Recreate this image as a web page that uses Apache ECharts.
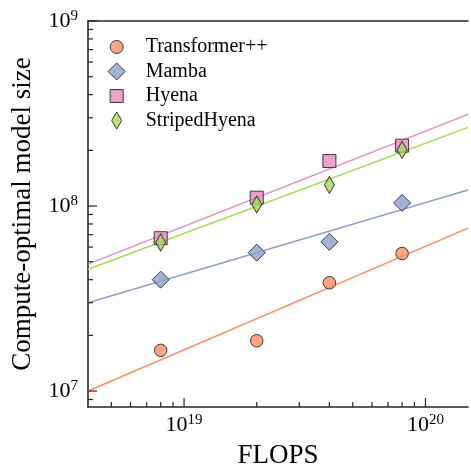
<!DOCTYPE html>
<html>
<head>
<meta charset="utf-8">
<title>Compute-optimal model size</title>
<script src="https://cdn.jsdelivr.net/npm/echarts@6/dist/echarts.min.js"></script>
<style>
    html, body { margin: 0; padding: 0; background: #fff; }
    #container { width: 471px; height: 474px; }
</style>
</head>
<body>
<div id="container"></div>
<script>
// measured points
var flops = [8e18, 2e19, 4e19, 8e19];
var transformerSize = [1.66e7, 1.87e7, 3.85e7, 5.54e7];
var mambaSize = [4.0e7, 5.6e7, 6.4e7, 1.04e8];
var hyenaSize = [6.7e7, 1.11e8, 1.75e8, 2.12e8];
var stripedSize = [6.35e7, 1.02e8, 1.30e8, 2.01e8];

// fitted lines: value at the left and right edge of the plot
var fitFlops = [4e18, 1.5e20];
var transformerFit = [1.0e7, 7.6e7];
var mambaFit = [3.0e7, 1.22e8];
var hyenaFit = [4.85e7, 3.13e8];
var stripedFit = [4.55e7, 2.66e8];

var names = ['Transformer++', 'Mamba', 'Hyena', 'StripedHyena'];

// log ticks
var xMajorTicks = [1e19, 1e20];
var xMinorTicks = [5e18, 6e18, 7e18, 8e18, 9e18, 2e19, 3e19, 4e19, 5e19, 6e19, 7e19, 8e19, 9e19];
var yMajorTicks = [1e7, 1e8, 1e9];
var yMinorTicks = [9e6, 2e7, 3e7, 4e7, 5e7, 6e7, 7e7, 8e7, 9e7,
    2e8, 3e8, 4e8, 5e8, 6e8, 7e8, 8e8, 9e8];

var xMin = 4e18, xMax = 1.5e20;
var yMin = 8.2e6, yMax = 1e9;

var font = '"Liberation Serif", "DejaVu Serif", serif';
var axisColor = '#262626';
var edgeColor = '#3a3a3a';

function zip(xs, ys) {
    var out = [];
    for (var i = 0; i < xs.length; i++) {
        out.push([xs[i], ys[i]]);
    }
    return out;
}

function powerLabel(v) {
    var e = Math.log10(v);
    if (Math.abs(e - Math.round(e)) > 1e-6) return '';
    return '{b|10}{s|' + Math.round(e) + '}';
}

var labelRich = {
    b: { fontFamily: font, fontSize: 22, lineHeight: 24, color: '#000' },
    s: { fontFamily: font, fontSize: 15, lineHeight: 12, verticalAlign: 'top', color: '#000' }
};

// ticks drawn inward, matplotlib style
function tickSeries(values, dir, len) {
    return {
        type: 'custom',
        silent: true,
        clip: false,
        z: 5,
        data: values.map(function (v) { return dir === 'x' ? [v, yMin] : [xMin, v]; }),
        renderItem: function (params, api) {
            var p = api.coord([api.value(0), api.value(1)]);
            var x2 = dir === 'x' ? p[0] : p[0] + len;
            var y2 = dir === 'x' ? p[1] - len : p[1];
            return {
                type: 'line',
                shape: { x1: p[0], y1: p[1], x2: x2, y2: y2 },
                style: { stroke: axisColor, lineWidth: 1.2 }
            };
        }
    };
}

function fitSeries(ys, color) {
    return {
        type: 'line',
        data: zip(fitFlops, ys),
        showSymbol: false,
        silent: true,
        z: 2,
        lineStyle: { color: color, width: 1.5 }
    };
}

function pointSeries(name, ys, symbol, size, fill) {
    return {
        name: name,
        type: 'scatter',
        data: zip(flops, ys),
        symbol: symbol,
        symbolSize: size,
        z: 3,
        itemStyle: { color: fill, borderColor: edgeColor, borderWidth: 1, opacity: 1 }
    };
}

var myChart = echarts.init(document.getElementById('container'));

var option = {
    animation: false,
    backgroundColor: '#fff',
    grid: { left: 88, top: 21, right: 0, bottom: 65 },
    legend: {
        orient: 'vertical',
        left: 102.7,
        top: 32,
        itemWidth: 48,
        itemHeight: 17,
        itemGap: 4.5,
        selectedMode: false,
        itemStyle: { borderColor: edgeColor, borderWidth: 1 },
        textStyle: { fontFamily: font, fontSize: 20, color: '#000', lineHeight: 17 },
        data: [
            { name: names[0], icon: 'path://M0,0M17,17M2,8.5A6.5,6.5,0,1,1,15,8.5A6.5,6.5,0,1,1,2,8.5Z' },
            { name: names[1], icon: 'path://M8.5,0L17,8.5L8.5,17L0,8.5Z' },
            { name: names[2], icon: 'path://M0,0M17,17M2,2L15,2L15,15L2,15Z' },
            { name: names[3], icon: 'path://M0,0M17,17M8.5,0L13.5,8.5L8.5,17L3.5,8.5Z' }
        ]
    },
    xAxis: [{
        type: 'log',
        min: xMin,
        max: xMax,
        name: 'FLOPS',
        nameLocation: 'middle',
        nameGap: 35,
        nameTextStyle: { fontFamily: font, fontSize: 27, color: '#000' },
        axisLine: { show: true, lineStyle: { color: axisColor, width: 1.6 } },
        axisTick: { show: false },
        splitLine: { show: false },
        minorTick: { show: false },
        axisLabel: { margin: 6, formatter: powerLabel, rich: labelRich }
    }, {
        type: 'log',
        min: xMin,
        max: xMax,
        position: 'top',
        axisLine: { show: true, lineStyle: { color: axisColor, width: 1.6 } },
        axisTick: { show: false },
        axisLabel: { show: false },
        splitLine: { show: false }
    }],
    yAxis: {
        type: 'log',
        min: yMin,
        max: yMax,
        name: 'Compute-optimal model size',
        nameLocation: 'middle',
        nameGap: 52,
        nameTextStyle: { fontFamily: font, fontSize: 27, color: '#000' },
        axisLine: { show: true, lineStyle: { color: axisColor, width: 1.6 } },
        axisTick: { show: false },
        splitLine: { show: false },
        minorTick: { show: false },
        axisLabel: { margin: 10, formatter: powerLabel, rich: labelRich }
    },
    series: [
        fitSeries(transformerFit, '#fc8d62'),
        fitSeries(mambaFit, '#8da0cb'),
        fitSeries(hyenaFit, '#e78ac3'),
        fitSeries(stripedFit, '#a6d854'),
        pointSeries(names[0], transformerSize, 'circle', 12.5, 'rgba(252,141,98,0.8)'),
        pointSeries(names[1], mambaSize, 'diamond', 17, 'rgba(141,160,203,0.8)'),
        pointSeries(names[2], hyenaSize, 'rect', 13, 'rgba(231,138,195,0.8)'),
        pointSeries(names[3], stripedSize, 'diamond', [10, 17], 'rgba(166,216,84,0.8)'),
        tickSeries(xMajorTicks, 'x', 9),
        tickSeries(xMinorTicks, 'x', 5),
        tickSeries(yMajorTicks, 'y', 9),
        tickSeries(yMinorTicks, 'y', 5)
    ]
};

myChart.setOption(option);
</script>
</body>
</html>
